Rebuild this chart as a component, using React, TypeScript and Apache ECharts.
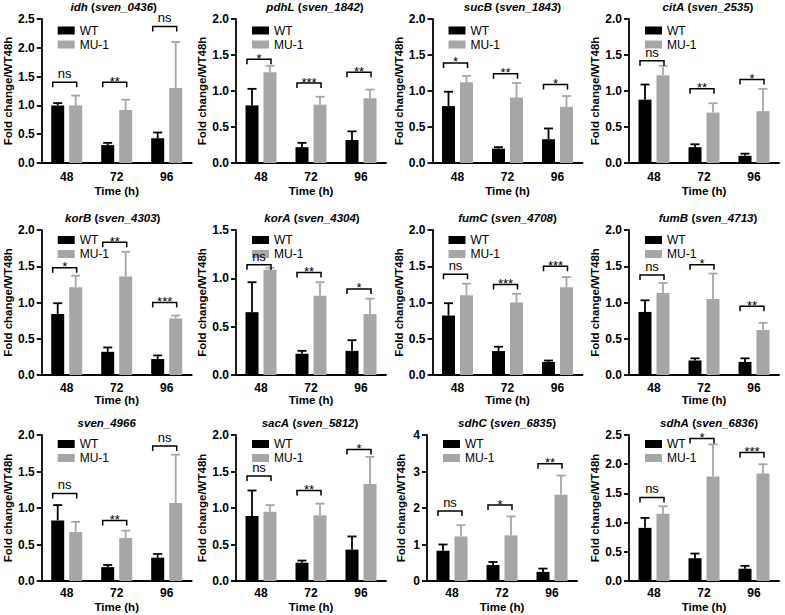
import { useEffect, useRef } from 'react';
import * as echarts from 'echarts';

const FONT = '"Liberation Sans", Arial, Helvetica, sans-serif';

// ---- data ----
const timePoints = ['48', '72', '96'];
const strainNames = ['WT', 'MU-1'];

const geneNames = ['idh', 'pdhL', 'sucB', 'citA', 'korB', 'korA', 'fumC', 'fumB', '', 'sacA', 'sdhC', 'sdhA'];
const locusTags = [
  'sven_0436', 'sven_1842', 'sven_1843', 'sven_2535',
  'sven_4303', 'sven_4304', 'sven_4708', 'sven_4713',
  'sven_4966', 'sven_5812', 'sven_6835', 'sven_6836',
];

const wtMeans = [
  [1.0, 0.31, 0.43], [0.8, 0.22, 0.32], [0.79, 0.2, 0.33], [0.88, 0.22, 0.1],
  [0.84, 0.32, 0.22], [0.65, 0.22, 0.25], [0.82, 0.33, 0.18], [0.87, 0.2, 0.18],
  [0.83, 0.19, 0.32], [0.89, 0.25, 0.43], [0.83, 0.44, 0.25], [0.91, 0.39, 0.21],
];
const wtErrors = [
  [0.04, 0.04, 0.1], [0.23, 0.06, 0.12], [0.2, 0.02, 0.15], [0.21, 0.04, 0.03],
  [0.15, 0.06, 0.05], [0.31, 0.03, 0.11], [0.17, 0.06, 0.02], [0.16, 0.03, 0.05],
  [0.21, 0.03, 0.05], [0.35, 0.03, 0.18], [0.17, 0.08, 0.09], [0.17, 0.08, 0.05],
];
const muMeans = [
  [1.0, 0.92, 1.3], [1.26, 0.81, 0.9], [1.12, 0.91, 0.78], [1.22, 0.7, 0.72],
  [1.21, 1.36, 0.78], [1.09, 0.82, 0.63], [1.1, 1.0, 1.21], [1.13, 1.05, 0.62],
  [0.67, 0.59, 1.07], [0.95, 0.9, 1.33], [1.22, 1.25, 2.36], [1.15, 1.79, 1.84],
];
const muErrors = [
  [0.17, 0.18, 0.8], [0.09, 0.11, 0.12], [0.09, 0.2, 0.15], [0.13, 0.13, 0.31],
  [0.16, 0.34, 0.04], [0.02, 0.14, 0.16], [0.16, 0.12, 0.14], [0.14, 0.35, 0.1],
  [0.14, 0.1, 0.66], [0.09, 0.16, 0.37], [0.31, 0.52, 0.53], [0.13, 0.55, 0.16],
];

const yMaxima = [2.5, 2, 2, 2, 2, 1.5, 2, 2, 2, 2, 4, 2.5];
const yIntervals = [0.5, 0.5, 0.5, 0.5, 0.5, 0.5, 0.5, 0.5, 0.5, 0.5, 1, 0.5];

const sigMarks = [
  ['ns', '**', 'ns'], ['*', '***', '**'], ['*', '**', '*'], ['ns', '**', '*'],
  ['*', '**', '***'], ['ns', '**', '*'], ['ns', '***', '***'], ['ns', '*', '**'],
  ['ns', '**', 'ns'], ['ns', '**', '*'], ['ns', '*', '**'], ['ns', '*', '***'],
];
const sigLevels = [
  [1.4, 1.4, 2.37], [1.44, 1.11, 1.26], [1.39, 1.24, 1.09], [1.42, 1.03, 1.16],
  [1.48, 1.83, 1.0], [1.14, 1.06, 0.89], [1.39, 1.25, 1.5], [1.38, 1.52, 0.95],
  [1.2, 0.83, 1.85], [1.44, 1.24, 1.8], [1.92, 2.08, 3.21], [1.43, 2.44, 2.2],
];

// ---- layout ----
const WT_COLOR = '#000000';
const MU_COLOR = '#a6a6a6';
const BAR_W = 13;
const BAR_GAP = 5;
const BAR_OFFSET = (BAR_W + BAR_GAP) / 2;
const CAP_W = 9;
const LINE_W = 1.8;

const PLOT_W = 150;
const COL_X = [0, 196, 392, 588];
const AXIS_X = [41.7, 236, 432.5, 629];
const ROW_TOP = [19, 230, 435];
const ROW_H = [144, 145, 146];
const X_LABEL_MARGIN = [7.5, 6.5, 6];
const X_NAME_GAP = [22, 19, 20];
const LEGEND_DY = [5.5, 4, 3];
const TITLE_SHIFT = [-3, 4, 5, 4, -4, 1, 0, 4, -10, -1, 5, 5];

const axisLineStyle = { color: '#000', width: LINE_W };
const boldText = { fontFamily: FONT, fontWeight: 'bold' as const, color: '#000' };

function errorRenderer(side: number, color: string) {
  return (_params: any, api: any) => {
    const c = api.value(0);
    const m = api.value(1);
    const e = api.value(2);
    const base = api.coord([c, m]);
    const top = api.coord([c, m + e]);
    const x = base[0] + side * BAR_OFFSET;
    const style = { stroke: color, lineWidth: LINE_W };
    return {
      type: 'group',
      children: [
        { type: 'line', shape: { x1: x, y1: base[1], x2: x, y2: top[1] }, style },
        { type: 'line', shape: { x1: x - CAP_W / 2, y1: top[1], x2: x + CAP_W / 2, y2: top[1] }, style },
      ],
    };
  };
}

function bracketRenderer(panel: number) {
  return (params: any, api: any) => {
    const p = api.coord([api.value(0), api.value(1)]);
    const xL = p[0] - 14;
    const xR = p[0] + 10;
    const y = p[1];
    const mark = sigMarks[panel][params.dataIndex];
    const isNs = mark === 'ns';
    return {
      type: 'group',
      children: [
        {
          type: 'polyline',
          shape: { points: [[xL, y + 5], [xL, y], [xR, y], [xR, y + 5]] },
          style: { stroke: '#000', lineWidth: 1.5, fill: null },
        },
        {
          type: 'text',
          x: (xL + xR) / 2,
          y: isNs ? y - 8.5 : y - 1,
          style: {
            text: mark,
            fill: '#000',
            fontSize: 13,
            fontFamily: FONT,
            align: 'center',
            verticalAlign: 'middle',
          },
        },
      ],
    };
  };
}

export default function App() {
  const ref = useRef<HTMLDivElement>(null);

  useEffect(() => {
    if (!ref.current) return;
    const chart = echarts.init(ref.current, undefined, { renderer: 'svg' });

    const grids: any[] = [];
    const xAxes: any[] = [];
    const yAxes: any[] = [];
    const legends: any[] = [];
    const series: any[] = [];
    const graphics: any[] = [];

    for (let i = 0; i < 12; i++) {
      const row = Math.floor(i / 4);
      const col = i % 4;
      const left = AXIS_X[col] - (yIntervals[i] >= 1 ? 5.5 : 0);
      const top = ROW_TOP[row];
      const height = ROW_H[row];

      grids.push({ left, top, width: PLOT_W, height });

      xAxes.push({
        type: 'category',
        gridIndex: i,
        data: timePoints,
        axisLine: { lineStyle: axisLineStyle },
        axisTick: { alignWithLabel: true, length: 5, lineStyle: axisLineStyle },
        axisLabel: { ...boldText, fontSize: 12, margin: X_LABEL_MARGIN[row] },
        name: 'Time (h)',
        nameLocation: 'middle',
        nameGap: X_NAME_GAP[row],
        nameTextStyle: { ...boldText, fontSize: 11.5 },
      });

      const step = yIntervals[i];
      yAxes.push({
        type: 'value',
        gridIndex: i,
        min: 0,
        max: yMaxima[i],
        interval: step,
        axisLine: { show: true, lineStyle: axisLineStyle },
        axisTick: { show: true, length: 5, lineStyle: axisLineStyle },
        splitLine: { show: false },
        axisLabel: {
          ...boldText,
          fontSize: 12,
          margin: 7,
          formatter: (v: number) => (step < 1 ? v.toFixed(1) : String(v)),
        },
        name: 'Fold change/WT48h',
        nameLocation: 'middle',
        nameGap: left - (COL_X[col] + 8) - 6.5,
        nameTextStyle: { ...boldText, fontSize: 11.5 },
      });

      legends.push({
        data: strainNames,
        orient: 'vertical',
        left: left + 16,
        top: top + LEGEND_DY[row],
        padding: 0,
        itemGap: 2,
        itemWidth: 17,
        itemHeight: 8,
        icon: 'rect',
        selectedMode: false,
        textStyle: { fontFamily: FONT, fontSize: 12, color: '#000', lineHeight: 12 },
      });

      series.push(
        {
          type: 'bar',
          name: strainNames[0],
          xAxisIndex: i,
          yAxisIndex: i,
          data: wtMeans[i],
          barWidth: BAR_W,
          barGap: `${(BAR_GAP / BAR_W) * 100}%`,
          itemStyle: { color: WT_COLOR },
          silent: true,
        },
        {
          type: 'bar',
          name: strainNames[1],
          xAxisIndex: i,
          yAxisIndex: i,
          data: muMeans[i],
          barWidth: BAR_W,
          barGap: `${(BAR_GAP / BAR_W) * 100}%`,
          itemStyle: { color: MU_COLOR },
          silent: true,
        },
        {
          type: 'custom',
          name: 'wt-error',
          xAxisIndex: i,
          yAxisIndex: i,
          data: wtMeans[i].map((m, t) => [t, m, wtErrors[i][t]]),
          renderItem: errorRenderer(-1, WT_COLOR),
          clip: false,
          silent: true,
          z: 3,
        },
        {
          type: 'custom',
          name: 'mu-error',
          xAxisIndex: i,
          yAxisIndex: i,
          data: muMeans[i].map((m, t) => [t, m, muErrors[i][t]]),
          renderItem: errorRenderer(1, MU_COLOR),
          clip: false,
          silent: true,
          z: 3,
        },
        {
          type: 'custom',
          name: 'significance',
          xAxisIndex: i,
          yAxisIndex: i,
          data: sigLevels[i].map((h, t) => [t, h]),
          renderItem: bracketRenderer(i),
          clip: false,
          silent: true,
          z: 4,
        },
      );

      const gene = geneNames[i];
      const titleText = gene
        ? `{i|${gene}} {n|(}{i|${locusTags[i]}}{n|)}`
        : `{i|${locusTags[i]}}`;
      graphics.push({
        type: 'text',
        x: left + PLOT_W / 2 + TITLE_SHIFT[i],
        y: top - 12,
        style: {
          text: titleText,
          align: 'center',
          verticalAlign: 'middle',
          rich: {
            i: { fontFamily: FONT, fontSize: 11.5, fontWeight: 'bold', fontStyle: 'italic', fill: '#000' },
            n: { fontFamily: FONT, fontSize: 11.5, fontWeight: 'bold', fill: '#000' },
          },
        },
      });
    }

    chart.setOption({
      animation: false,
      backgroundColor: '#fff',
      grid: grids,
      xAxis: xAxes,
      yAxis: yAxes,
      legend: legends,
      series,
      graphic: graphics,
    });

    return () => chart.dispose();
  }, []);

  return (
    <div
      ref={ref}
      style={{ position: 'fixed', left: 0, top: 0, width: 785, height: 615, background: '#fff' }}
    />
  );
}
